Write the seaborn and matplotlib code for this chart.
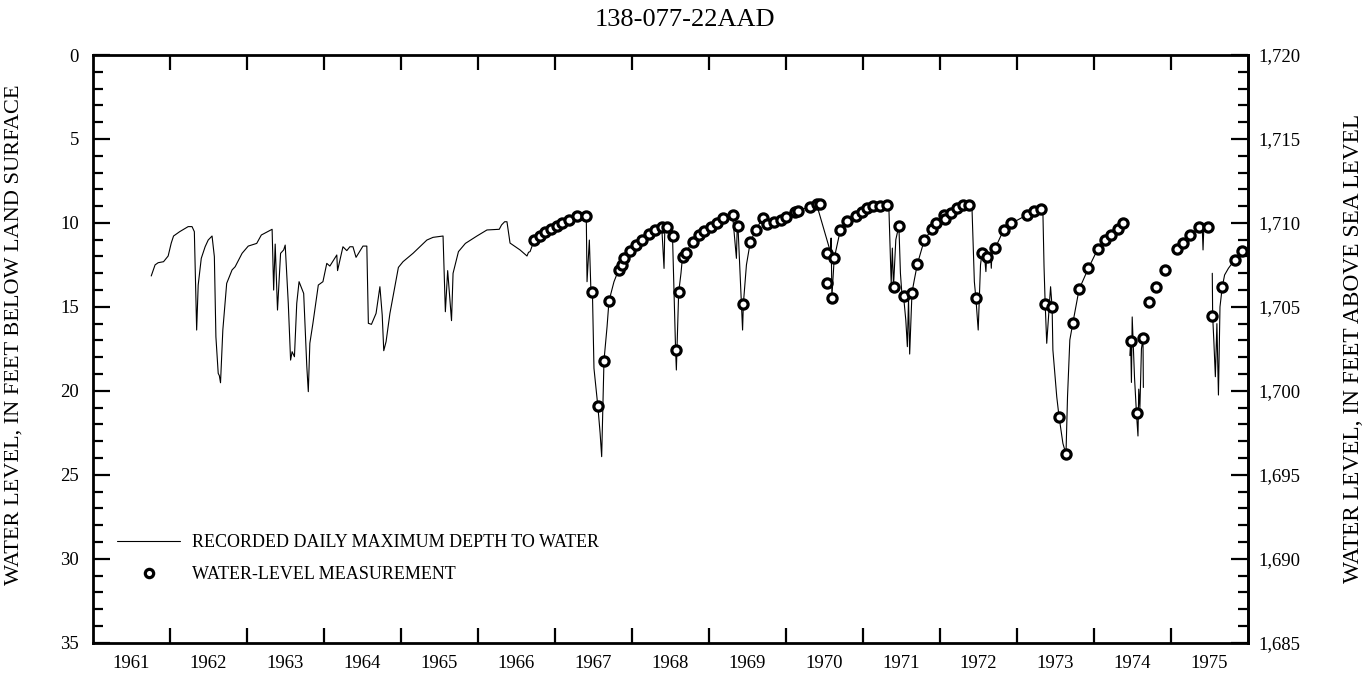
import numpy as np
import pandas as pd
import matplotlib
matplotlib.use("Agg")
import matplotlib.pyplot as plt
from matplotlib.ticker import FixedLocator, MultipleLocator, FuncFormatter, NullFormatter
from matplotlib.lines import Line2D
import seaborn as sns

# ---------------- data ----------------
title = "138-077-22AAD"
year_labels = [str(y) for y in range(1961, 1976)]
land_surface = 1720
elev_ticks = [1685, 1690, 1695, 1700, 1705, 1710, 1715, 1720]

# recorded daily maximum depth to water (decimal year, feet), split in segments
seg_a_years = [
    1961.76, 1961.81, 1961.85, 1961.92, 1961.98, 1962.02, 1962.05, 1962.13, 1962.24, 1962.29,
    1962.32, 1962.35, 1962.37, 1962.41, 1962.46, 1962.50, 1962.55, 1962.58, 1962.60, 1962.63,
    1962.645, 1962.66, 1962.69, 1962.74, 1962.81, 1962.85, 1962.94, 1963.02, 1963.13, 1963.19,
    1963.33, 1963.35, 1963.37, 1963.40, 1963.44, 1963.48, 1963.50, 1963.54, 1963.57, 1963.59,
    1963.62, 1963.65, 1963.68, 1963.74, 1963.78, 1963.80, 1963.82, 1963.86, 1963.93, 1963.99,
    1964.04, 1964.08, 1964.17, 1964.18, 1964.25, 1964.30, 1964.34, 1964.38, 1964.42, 1964.51,
    1964.56, 1964.58, 1964.62, 1964.68, 1964.73, 1964.76, 1964.78, 1964.81, 1964.86, 1964.97,
    1965.03, 1965.16, 1965.34, 1965.42, 1965.55, 1965.58, 1965.61, 1965.66, 1965.68, 1965.75,
    1965.84, 1965.99, 1966.12, 1966.28, 1966.31, 1966.35, 1966.38, 1966.42, 1966.55, 1966.64,
    1966.66, 1966.68, 1966.735, 1966.81, 1966.87, 1966.95, 1967.03, 1967.10, 1967.18, 1967.29,
    1967.41, 1967.42, 1967.45, 1967.47, 1967.49, 1967.51, 1967.56, 1967.59, 1967.61, 1967.64,
    1967.68, 1967.705, 1967.77, 1967.83, 1967.87, 1967.90, 1967.98, 1968.06, 1968.14, 1968.22,
    1968.30, 1968.39, 1968.42, 1968.43, 1968.46, 1968.53, 1968.57, 1968.58, 1968.61, 1968.64,
    1968.66, 1968.70, 1968.79, 1968.87, 1968.94, 1969.03, 1969.11, 1969.18, 1969.31, 1969.36,
    1969.37, 1969.38, 1969.44, 1969.45, 1969.49, 1969.54, 1969.61, 1969.70, 1969.76, 1969.85,
    1969.94, 1970.01, 1970.12, 1970.16, 1970.31, 1970.40, 1970.58, 1970.59, 1970.60, 1970.63,
    1970.71, 1970.80, 1970.91, 1970.99, 1971.06, 1971.14, 1971.22, 1971.31, 1971.34, 1971.37,
    1971.385, 1971.40, 1971.43, 1971.47, 1971.49, 1971.51, 1971.53, 1971.56, 1971.58, 1971.595,
    1971.61, 1971.64, 1971.67, 1971.71, 1971.80, 1971.90, 1971.95, 1972.05, 1972.07, 1972.15,
    1972.23, 1972.30, 1972.38, 1972.42, 1972.45, 1972.47, 1972.50, 1972.53, 1972.55, 1972.58,
    1972.60, 1972.61, 1972.62, 1972.66, 1972.67, 1972.68, 1972.72, 1972.83, 1972.93, 1973.13,
    1973.22, 1973.32, 1973.34, 1973.355, 1973.37, 1973.39, 1973.44, 1973.46, 1973.47, 1973.52,
    1973.55, 1973.60, 1973.64, 1973.66, 1973.69, 1973.73, 1973.81, 1973.93, 1974.05, 1974.15,
    1974.22, 1974.32, 1974.38,
]
seg_a_depths = [
    13.16, 12.5, 12.37, 12.31, 11.97, 11.2, 10.78, 10.52, 10.22, 10.22,
    10.52, 16.38, 13.7, 12.11, 11.42, 11.02, 10.78, 12.01, 16.78, 18.96,
    19.1, 19.52, 16.38, 13.6, 12.8, 12.61, 11.81, 11.38, 11.22, 10.72,
    10.38, 14.0, 11.26, 15.19, 11.81, 11.61, 11.32, 14.79, 18.17, 17.67,
    17.97, 14.79, 13.5, 14.2, 18.5, 20.05, 17.17, 15.98, 13.7, 13.5,
    12.41, 12.57, 11.91, 12.84, 11.42, 11.65, 11.42, 11.42, 12.05, 11.38,
    11.38, 15.98, 16.04, 15.39, 13.8, 15.49, 17.61, 17.07, 15.39, 12.65,
    12.31, 11.81, 11.02, 10.86, 10.78, 15.29, 12.84, 15.82, 13.0, 11.71,
    11.22, 10.78, 10.42, 10.38, 10.12, 9.93, 9.93, 11.2, 11.61, 11.97,
    11.75, 11.71, 11.02, 10.78, 10.52, 10.38, 10.18, 9.99, 9.83, 9.57,
    9.57, 13.5, 11.02, 14.0, 14.14, 18.66, 20.9, 22.53, 23.92, 18.2,
    16.18, 14.65, 13.5, 12.8, 12.51, 12.11, 11.67, 11.32, 11.02, 10.68,
    10.42, 10.22, 12.71, 10.3, 10.22, 10.78, 17.57, 18.76, 14.14, 13.0,
    12.01, 11.77, 11.12, 10.72, 10.46, 10.26, 9.99, 9.73, 9.53, 12.11,
    10.3, 10.18, 16.38, 14.83, 12.5, 11.14, 10.42, 9.73, 10.08, 9.93,
    9.83, 9.63, 9.33, 9.29, 9.03, 8.87, 11.71, 10.9, 14.4, 12.11,
    10.42, 9.87, 9.59, 9.33, 9.13, 8.99, 8.99, 8.93, 9.1, 13.6,
    11.5, 13.8, 11.0, 10.16, 13.0, 14.3, 14.33, 15.8, 17.37, 14.5,
    17.81, 14.15, 13.4, 12.45, 11.02, 10.36, 10.03, 9.53, 9.77, 9.43,
    9.13, 8.93, 8.93, 9.2, 13.5, 14.49, 16.38, 12.5, 11.77, 11.9,
    12.9, 12.0, 12.01, 11.8, 12.7, 11.7, 11.51, 10.42, 10.03, 9.53,
    9.27, 9.17, 9.3, 12.6, 14.85, 17.17, 13.8, 15.03, 17.57, 20.35,
    21.54, 23.13, 23.77, 20.35, 16.97, 15.94, 13.96, 12.71, 11.58, 11.02,
    10.72, 10.38, 10.03,
]
seg_b_years = [1974.47, 1974.48, 1974.49, 1974.50, 1974.53, 1974.555, 1974.575, 1974.585,
               1974.60, 1974.62, 1974.64, 1974.645]
seg_b_depths = [17.9, 17.01, 19.5, 15.6, 19.2, 21.3, 22.69, 19.9, 21.0, 17.5, 16.87, 19.8]
seg_c_years = [1975.37, 1975.41, 1975.42, 1975.43, 1975.49]
seg_c_depths = [10.26, 10.3, 11.61, 10.3, 10.26]
seg_d_years = [1975.54, 1975.545, 1975.56, 1975.58, 1975.60, 1975.62, 1975.64, 1975.67,
               1975.70, 1975.75, 1975.83, 1975.92, 1975.97]
seg_d_depths = [13.0, 15.55, 17.0, 19.16, 16.0, 20.25, 15.0, 13.8, 13.1, 12.7, 12.21, 11.65, 11.5]

# periodic water-level measurements (decimal year, feet)
meas_years = [
    1966.735, 1966.81, 1966.87, 1966.95, 1967.03, 1967.10, 1967.18, 1967.29, 1967.41, 1967.49,
    1967.56, 1967.64, 1967.705, 1967.83, 1967.87, 1967.90, 1967.98, 1968.06, 1968.14, 1968.22,
    1968.30, 1968.39, 1968.46, 1968.53, 1968.57, 1968.61, 1968.66, 1968.70, 1968.79, 1968.87,
    1968.94, 1969.03, 1969.11, 1969.18, 1969.31, 1969.38, 1969.45, 1969.54, 1969.61, 1969.70,
    1969.76, 1969.85, 1969.94, 1970.01, 1970.12, 1970.16, 1970.31, 1970.40, 1970.45, 1970.53,
    1970.53, 1970.60, 1970.63, 1970.71, 1970.80, 1970.91, 1970.99, 1971.06, 1971.14, 1971.22,
    1971.31, 1971.40, 1971.47, 1971.53, 1971.64, 1971.71, 1971.80, 1971.90, 1971.95, 1972.05,
    1972.07, 1972.15, 1972.23, 1972.30, 1972.38, 1972.47, 1972.55, 1972.62, 1972.72, 1972.83,
    1972.93, 1973.13, 1973.22, 1973.32, 1973.37, 1973.46, 1973.55, 1973.64, 1973.73, 1973.81,
    1973.93, 1974.05, 1974.15, 1974.22, 1974.32, 1974.38, 1974.48, 1974.56, 1974.64, 1974.72,
    1974.81, 1974.93, 1975.08, 1975.16, 1975.25, 1975.37, 1975.49, 1975.54, 1975.67, 1975.83,
    1975.92,
]
meas_depths = [
    11.02, 10.78, 10.52, 10.38, 10.18, 9.99, 9.83, 9.57, 9.57, 14.14,
    20.9, 18.2, 14.65, 12.8, 12.51, 12.11, 11.67, 11.32, 11.02, 10.68,
    10.42, 10.22, 10.22, 10.78, 17.57, 14.14, 12.01, 11.77, 11.12, 10.72,
    10.46, 10.26, 9.99, 9.73, 9.53, 10.18, 14.83, 11.14, 10.42, 9.73,
    10.08, 9.93, 9.83, 9.63, 9.33, 9.29, 9.03, 8.87, 8.87, 11.81,
    13.56, 14.49, 12.11, 10.42, 9.87, 9.59, 9.33, 9.13, 8.99, 8.99,
    8.93, 13.8, 10.16, 14.33, 14.15, 12.45, 11.02, 10.36, 10.03, 9.53,
    9.77, 9.43, 9.13, 8.93, 8.93, 14.49, 11.77, 12.01, 11.51, 10.42,
    10.03, 9.53, 9.27, 9.17, 14.85, 15.03, 21.54, 23.77, 15.94, 13.96,
    12.71, 11.58, 11.02, 10.72, 10.38, 10.03, 17.01, 21.34, 16.87, 14.69,
    13.84, 12.8, 11.58, 11.22, 10.72, 10.26, 10.26, 15.55, 13.8, 12.21,
    11.65,
]

line_label = "RECORDED DAILY MAXIMUM DEPTH TO WATER"
meas_label = "WATER-LEVEL MEASUREMENT"
left_label = "WATER LEVEL, IN FEET BELOW LAND SURFACE"
right_label = "WATER LEVEL, IN FEET ABOVE SEA LEVEL"

# ---------------- frames ----------------
segments = [(seg_a_years, seg_a_depths), (seg_b_years, seg_b_depths),
            (seg_c_years, seg_c_depths), (seg_d_years, seg_d_depths)]
line_df = pd.concat([pd.DataFrame({"year": ys, "depth": ds, "seg": i})
                     for i, (ys, ds) in enumerate(segments)], ignore_index=True)
meas_df = pd.DataFrame({"year": meas_years, "depth": meas_depths})

# ---------------- style ----------------
sns.set_theme(style="ticks")
plt.rcParams["font.family"] = ["Liberation Serif", "DejaVu Serif"]
plt.rcParams["text.color"] = "black"
plt.rcParams["axes.labelcolor"] = "black"
plt.rcParams["xtick.color"] = "black"
plt.rcParams["ytick.color"] = "black"

fig = plt.figure(figsize=(13.70, 6.73), dpi=100)
ax = fig.add_axes([92.7 / 1370, 1 - 642.7 / 673, 1155 / 1370, 587.7 / 673])

sns.lineplot(data=line_df, x="year", y="depth", units="seg", estimator=None,
             color="black", linewidth=0.8, sort=False, ax=ax, legend=False)
sns.scatterplot(data=meas_df, x="year", y="depth", marker="o", s=44,
                facecolor="white", edgecolor="black", linewidth=2.3, ax=ax,
                zorder=3, legend=False)

ax.set_xlim(1961, 1976)
ax.set_ylim(35, 0)

for sp in ax.spines.values():
    sp.set_visible(True)
    sp.set_linewidth(2.0)
    sp.set_color("black")

# x axis: ticks at year boundaries, labels centred on years
ax.xaxis.set_major_locator(FixedLocator(list(range(1962, 1976))))
ax.xaxis.set_major_formatter(NullFormatter())
ax.set_xticks([y + 0.5 for y in range(1961, 1976)], labels=year_labels, minor=True)
ax.tick_params(axis="x", which="major", direction="in", length=11, width=1.6,
               top=True, bottom=True)
ax.tick_params(axis="x", which="minor", length=0, pad=9, labelsize=13.5)

# y axis
ax.yaxis.set_major_locator(MultipleLocator(5))
ax.yaxis.set_minor_locator(MultipleLocator(1))
ax.tick_params(axis="y", which="major", direction="in", length=12, width=1.6,
               labelsize=13.5, pad=10, left=True, right=False)
ax.tick_params(axis="y", which="minor", direction="in", length=7.5, width=1.6,
               left=True, right=False)
ax.set_xlabel("")
ax.set_ylabel(left_label, fontsize=16.1)
ax.yaxis.set_label_coords(-0.060, 0.524)

sec = ax.secondary_yaxis("right", functions=(lambda d: land_surface - d,
                                              lambda e: land_surface - e))
sec.yaxis.set_major_locator(FixedLocator(elev_ticks))
sec.yaxis.set_minor_locator(FixedLocator(list(range(1686, 1720))))
sec.yaxis.set_major_formatter(FuncFormatter(lambda v, p: f"{v:,.0f}"))
sec.tick_params(axis="y", which="major", direction="in", length=12, width=1.6,
                labelsize=13.5, pad=8)
sec.tick_params(axis="y", which="minor", direction="in", length=7.5, width=1.6)
sec.spines["right"].set_linewidth(2.0)
sec.set_ylabel(right_label, fontsize=16.8)
sec.yaxis.set_label_coords(1.0825, 0.5, transform=ax.transAxes)

fig.text(0.5, 1 - 20 / 673, title, ha="center", va="center", fontsize=19)

handles = [Line2D([], [], color="black", linewidth=0.8),
           Line2D([], [], color="black", marker="o", linestyle="none", markersize=6,
                  markerfacecolor="white", markeredgewidth=2.3)]
ax.legend(handles, [line_label, meas_label], loc="upper left",
          bbox_to_anchor=(0.021, 0.185), frameon=False, fontsize=13,
          handlelength=3.5, handletextpad=0.65, labelspacing=0.85,
          borderpad=0, borderaxespad=0)

fig.savefig("out.png", dpi=100)
